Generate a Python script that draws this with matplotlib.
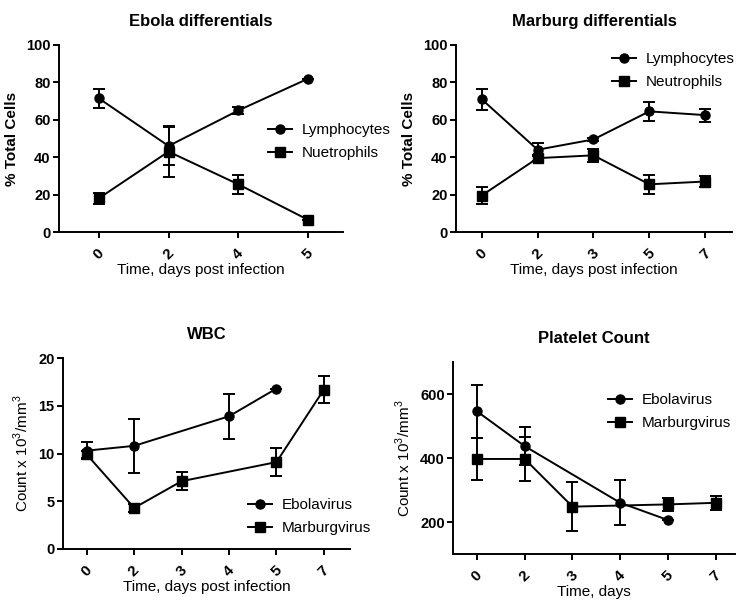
import matplotlib
matplotlib.use("agg")
import matplotlib.pyplot as plt
from matplotlib.lines import Line2D

plt.rcParams['font.family'] = ['Liberation Sans', 'DejaVu Sans']
plt.rcParams['mathtext.fontset'] = 'custom'
plt.rcParams['mathtext.rm'] = 'Liberation Sans'

# Ebola differentials
ebd_days = ['0', '2', '4', '5']
ebd_lym = [71.5, 46, 65, 82]
ebd_lym_err = [5, 10, 2, 0]
ebd_neu = [18, 43, 25.5, 6.5]
ebd_neu_err = [3, 13.5, 5, 0]

# Marburg differentials
mbd_days = ['0', '2', '3', '5', '7']
mbd_lym = [71, 44, 49.5, 64.5, 62.5]
mbd_lym_err = [5.5, 3.5, 1, 5, 3.5]
mbd_neu = [19.5, 39.5, 41, 25.5, 27]
mbd_neu_err = [4.5, 1.5, 3.5, 5, 3]

# WBC / platelets share the same day categories
all_days = ['0', '2', '3', '4', '5', '7']
ebo_days = ['0', '2', '4', '5']
mar_days = ['0', '2', '3', '5', '7']
wbc_ebo = [10.3, 10.8, 13.9, 16.8]
wbc_ebo_err = [0.9, 2.85, 2.35, 0]
wbc_mar = [9.9, 4.3, 7.1, 9.1, 16.7]
wbc_mar_err = [0.4, 0.45, 0.95, 1.45, 1.4]
plt_ebo = [546, 437, 260, 206]
plt_ebo_err = [83, 60, 70, 0]
plt_mar = [397, 397, 248, 255, 260]
plt_mar_err = [65, 70, 77, 21, 21]

W, H = 737, 604
fig = plt.figure(figsize=(W / 100, H / 100), dpi=100)


def make_ax(l, r, t, b):
    return fig.add_axes([l / W, 1 - b / H, (r - l) / W, (b - t) / H])


def series(ax, cats, days, vals, errs, marker):
    x = [cats.index(d) for d in days]
    ax.errorbar(x, vals, yerr=errs, color='black', marker=marker, ms=6.5,
                lw=1.4, elinewidth=1.4, capsize=4, capthick=1.4)


def style(ax, cats, title, xlabel, ylabel, ybold):
    for s in ['top', 'right']:
        ax.spines[s].set_visible(False)
    for s in ['left', 'bottom']:
        ax.spines[s].set_linewidth(1.4)
    ax.set_xticks(range(len(cats)))
    ax.set_xticklabels(cats, rotation=45, fontweight='bold', fontsize=11,
                       ha='center', va='top')
    for lab in ax.get_yticklabels():
        lab.set_fontweight('bold')
        lab.set_fontsize(10.5)
    ax.tick_params(width=1.4, length=4)
    ax.tick_params(axis='x', pad=6)
    ax.tick_params(axis='y', pad=2)
    ax.set_title(title, fontweight='bold', fontsize=12, pad=14)
    ax.set_xlabel(xlabel, fontsize=11, labelpad=1)
    ax.set_ylabel(ylabel, fontsize=11, fontweight='bold' if ybold else 'normal',
                  labelpad=5)


def legend(ax, x, y, labels):
    handles = [Line2D([], [], color='black', marker=m, ms=6.5, lw=1.4)
               for m in ['o', 's']]
    ax.legend(handles, labels, loc='upper left', bbox_to_anchor=(x / W, 1 - y / H),
              bbox_transform=fig.transFigure, frameon=False, fontsize=11,
              handlelength=1.6, handletextpad=0.6, borderpad=0,
              borderaxespad=0, labelspacing=0.6)


# panel 1
ax1 = make_ax(59, 343, 45, 232)
series(ax1, ebd_days, ebd_days, ebd_lym, ebd_lym_err, 'o')
series(ax1, ebd_days, ebd_days, ebd_neu, ebd_neu_err, 's')
ax1.set_xlim(-0.57, 3.5)
ax1.set_ylim(0, 100)
ax1.set_yticks([0, 20, 40, 60, 80, 100])
style(ax1, ebd_days, 'Ebola differentials', 'Time, days post infection', '% Total Cells', True)
legend(ax1, 268, 123, ['Lymphocytes', 'Nuetrophils'])

# panel 2
ax2 = make_ax(456, 732, 45, 232)
series(ax2, mbd_days, mbd_days, mbd_lym, mbd_lym_err, 'o')
series(ax2, mbd_days, mbd_days, mbd_neu, mbd_neu_err, 's')
ax2.set_xlim(-0.46, 4.48)
ax2.set_ylim(0, 100)
ax2.set_yticks([0, 20, 40, 60, 80, 100])
style(ax2, mbd_days, 'Marburg differentials', 'Time, days post infection', '% Total Cells', True)
legend(ax2, 612, 52, ['Lymphocytes', 'Neutrophils'])

# panel 3
ax3 = make_ax(63, 350, 358, 549)
series(ax3, all_days, ebo_days, wbc_ebo, wbc_ebo_err, 'o')
series(ax3, all_days, mar_days, wbc_mar, wbc_mar_err, 's')
ax3.set_xlim(-0.5, 5.55)
ax3.set_ylim(0, 20)
ax3.set_yticks([0, 5, 10, 15, 20])
style(ax3, all_days, 'WBC', 'Time, days post infection', r'Count x 10$^3$/mm$^3$', False)
legend(ax3, 248, 498, ['Ebolavirus', 'Marburgvirus'])

# panel 4
ax4 = make_ax(453, 735, 362, 554)
series(ax4, all_days, ebo_days, plt_ebo, plt_ebo_err, 'o')
series(ax4, all_days, mar_days, plt_mar, plt_mar_err, 's')
ax4.set_xlim(-0.5, 5.4)
ax4.set_ylim(100, 700)
ax4.set_yticks([200, 400, 600])
style(ax4, all_days, 'Platelet Count', 'Time, days', r'Count x 10$^3$/mm$^3$', False)
legend(ax4, 608, 393, ['Ebolavirus', 'Marburgvirus'])

fig.savefig('out.png', dpi=100)
